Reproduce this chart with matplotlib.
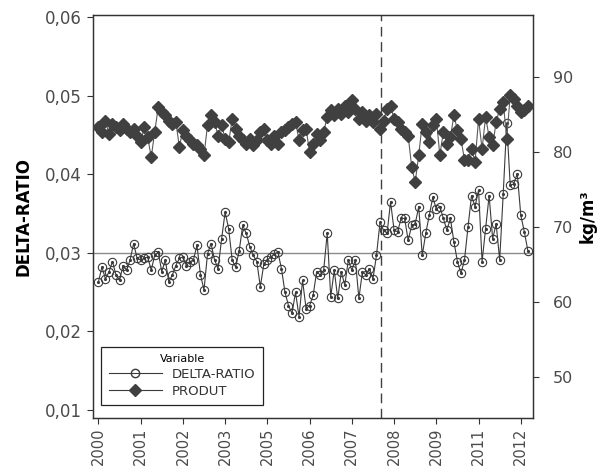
import numpy as np
import matplotlib
matplotlib.use("Agg")
import matplotlib.pyplot as plt
from matplotlib.ticker import FuncFormatter
from matplotlib.lines import Line2D

# DELTA-RATIO (axe gauche), une valeur par observation
delta_ratio = [
    0.0263, 0.0282, 0.0267, 0.0276, 0.0289, 0.0272, 0.0265, 0.0284, 0.0278, 0.0291,
    0.0312, 0.0293, 0.0291, 0.0293, 0.0295, 0.0278, 0.0297, 0.0301, 0.0276, 0.0291,
    0.0263, 0.0272, 0.0284, 0.0293, 0.0295, 0.0284, 0.0289, 0.0291, 0.0310, 0.0272,
    0.0253, 0.0299, 0.0312, 0.0291, 0.0280, 0.0318, 0.0352, 0.0331, 0.0291, 0.0282,
    0.0303, 0.0335, 0.0325, 0.0308, 0.0297, 0.0289, 0.0257, 0.0286, 0.0291, 0.0295,
    0.0299, 0.0301, 0.0280, 0.0250, 0.0233, 0.0223, 0.0250, 0.0219, 0.0265, 0.0229,
    0.0233, 0.0246, 0.0276, 0.0272, 0.0278, 0.0325, 0.0244, 0.0278, 0.0242, 0.0276,
    0.0259, 0.0291, 0.0278, 0.0291, 0.0242, 0.0276, 0.0272, 0.0280, 0.0267, 0.0297,
    0.0339, 0.0329, 0.0325, 0.0365, 0.0329, 0.0327, 0.0344, 0.0344, 0.0316, 0.0335,
    0.0337, 0.0359, 0.0297, 0.0325, 0.0348, 0.0371, 0.0356, 0.0359, 0.0344, 0.0329,
    0.0344, 0.0314, 0.0289, 0.0274, 0.0291, 0.0333, 0.0373, 0.0359, 0.0380, 0.0289,
    0.0331, 0.0373, 0.0318, 0.0337, 0.0291, 0.0375, 0.0465, 0.0386, 0.0388, 0.0401,
    0.0348, 0.0327, 0.0303,
]

# PRODUT en kg/m3 (axe droit)
produt = [
    83.3, 82.7, 84.2, 82.4, 83.8, 83.3, 82.9, 83.8, 83.1, 82.7,
    83.1, 82.2, 81.3, 83.3, 82.0, 79.3, 82.7, 86.0, 85.3, 84.9,
    84.2, 83.8, 84.0, 80.7, 82.9, 82.2, 81.6, 81.1, 80.9, 80.4,
    79.6, 83.6, 84.9, 84.0, 82.2, 83.6, 81.8, 81.3, 84.4, 83.1,
    82.2, 81.6, 81.1, 81.8, 80.9, 81.6, 82.7, 83.1, 81.6, 81.1,
    82.2, 81.1, 82.7, 82.9, 83.3, 83.8, 84.0, 81.6, 82.9, 83.1,
    80.0, 81.1, 82.4, 81.6, 82.7, 84.7, 85.6, 84.9, 85.8, 85.1,
    86.2, 85.3, 86.9, 85.8, 84.4, 85.3, 84.2, 84.9, 84.0, 85.1,
    83.1, 84.2, 85.8, 86.2, 84.4, 84.0, 83.1, 82.7, 82.2, 78.0,
    76.0, 79.6, 83.8, 82.7, 81.3, 83.6, 84.4, 79.6, 82.7, 81.1,
    82.0, 84.9, 82.9, 81.8, 78.9, 78.9, 80.4, 78.7, 84.4, 80.4,
    84.7, 82.0, 80.9, 84.0, 85.8, 86.7, 81.8, 87.6, 87.1, 86.2,
    85.3, 85.6, 86.2,
]

tick_idx = [0, 12, 24, 36, 48, 60, 72, 84, 96, 108, 120]
tick_labels = ["2000", "2001", "2002", "2003", "2005", "2006",
               "2007", "2008", "2009", "2011", "2012"]

t = np.arange(len(delta_ratio))

fig = plt.figure(figsize=(5.97, 4.70), dpi=100)
ax = fig.add_axes([0.156, 0.111, 0.737, 0.857])
ax2 = ax.twinx()

grey = "#3a3a3a"

ax.plot(t, delta_ratio, color=grey, lw=0.8, marker="o", ms=6,
        mfc="none", mec=grey, mew=0.8, zorder=3)
ax.plot(t, delta_ratio, ls="none", marker=".", ms=2.5, color=grey, zorder=3)
ax.axhline(0.03, color="#8a8a8a", lw=1.0, zorder=1)
ax.axvline(80.2, color="#404040", lw=1.0, ls=(0, (7, 4)), zorder=1)

ax2.plot(t, produt, color="#5a5a5a", lw=0.8, marker="D", ms=6,
         mfc="#404040", mec="#404040", zorder=3)

ax.set_xlim(-1.5, 123.5)
ax.set_ylim(0.009, 0.0603)
ax2.set_ylim(44.5, 98.3)

ax.set_yticks([0.01, 0.02, 0.03, 0.04, 0.05, 0.06])
ax.yaxis.set_major_formatter(FuncFormatter(lambda v, p: f"{v:.2f}".replace(".", ",")))
ax2.set_yticks([50, 60, 70, 80, 90])
ax.set_xticks(tick_idx)
ax.set_xticklabels(tick_labels, rotation=90)

for a in (ax, ax2):
    a.tick_params(direction="out", length=4, width=0.8, colors="#333333",
                  labelcolor="#4a4a4a")
    for s in a.spines.values():
        s.set_color("#333333")
        s.set_linewidth(0.9)
ax.tick_params(axis="y", labelsize=12, pad=4)
ax.tick_params(axis="x", labelsize=10.5, pad=3)
ax2.tick_params(axis="y", labelsize=11.5, pad=10)

ax.set_ylabel("DELTA-RATIO", fontsize=12, fontweight="bold", labelpad=9)
ax2.set_ylabel("kg/m³", fontsize=12, fontweight="bold", labelpad=4)

handles = [
    Line2D([], [], color=grey, lw=0.8, marker="o", ms=6, mfc="none", mec=grey),
    Line2D([], [], color=grey, lw=0.8, marker="D", ms=6, mfc="#404040", mec="#404040"),
]
leg = ax2.legend(handles, ["DELTA-RATIO", "PRODUT"], title="Variable",
                 loc="lower left", bbox_to_anchor=(0.004, 0.015), fontsize=9.5,
                 title_fontsize=8, frameon=True, fancybox=False,
                 edgecolor="#222222", handlelength=4, borderpad=0.55,
                 labelspacing=0.3, framealpha=1)
leg.get_frame().set_linewidth(0.9)
for txt in leg.get_texts():
    txt.set_color("#333333")

fig.savefig("out.png", dpi=100)
